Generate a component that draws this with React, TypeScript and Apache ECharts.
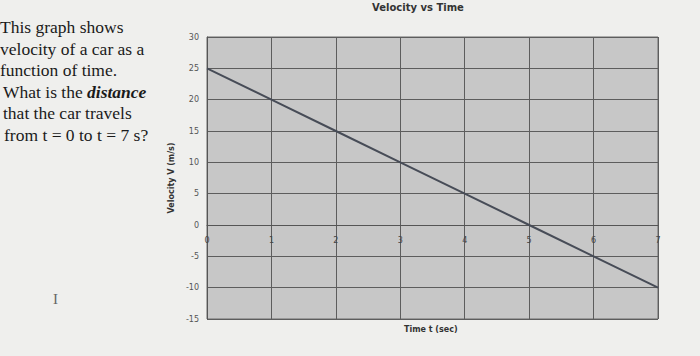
import React, { useEffect, useRef } from "react";
import * as echarts from "echarts";

const times = [0, 1, 2, 3, 4, 5, 6, 7];
const velocities = [25, 20, 15, 10, 5, 0, -5, -10];
const yMin = -15;
const yMax = 30;
const questionLines = [
  "This graph shows",
  "velocity of a car as a",
  "function of time.",
];
const titleText = "Velocity vs Time";
const xAxisName = "Time t (sec)";
const yAxisName = "Velocity V (m/s)";

export default function App() {
  const ref = useRef<HTMLDivElement>(null);
  useEffect(() => {
    if (!ref.current) return;
    const chart = echarts.init(ref.current, undefined, { renderer: "svg" });
    const serif = "'Liberation Serif', 'Times New Roman', serif";
    const sans = "'DejaVu Sans', sans-serif";
    const qStyle = { fontFamily: serif, fontSize: 17.5, fill: "#1a1a1a" };
    chart.setOption({
      animation: false,
      backgroundColor: "#efefed",
      title: {
        text: titleText,
        left: 418,
        top: 2,
        padding: 0,
        textAlign: "center",
        textStyle: { fontFamily: sans, fontSize: 10, fontWeight: "bold", color: "#333" },
      },
      grid: {
        left: 207,
        top: 37,
        right: 42,
        bottom: 37,
        show: true,
        containLabel: false,
        outerBoundsMode: "none",
        backgroundColor: "#c7c7c7",
        borderColor: "#6a6a6a",
        borderWidth: 1,
      },
      xAxis: {
        type: "value",
        min: 0,
        max: 7,
        interval: 1,
        axisLine: { onZero: false, lineStyle: { color: "#555", width: 1 } },
        axisTick: { show: false },
        axisLabel: { color: "#444", fontSize: 8, margin: 11, fontFamily: sans },
        splitLine: { show: true, lineStyle: { color: "#5d5d5d", width: 1 } },
      },
      yAxis: {
        type: "value",
        min: yMin,
        max: yMax,
        interval: 5,
        name: yAxisName,
        nameLocation: "middle",
        nameGap: 21,
        nameTextStyle: { fontFamily: sans, fontSize: 8, fontWeight: "bold", color: "#333" },
        axisLine: { show: true, onZero: false, lineStyle: { color: "#555", width: 1 } },
        axisTick: { show: false },
        axisLabel: { color: "#555", fontSize: 8, margin: 8, fontFamily: sans },
        splitLine: { show: true, lineStyle: { color: "#5d5d5d", width: 1 } },
      },
      series: [
        {
          type: "line",
          data: times.map((t, i) => [t, velocities[i]]),
          symbol: "none",
          lineStyle: { color: "#474c57", width: 2 },
        },
      ],
      graphic: [
        ...questionLines.map((line, i) => ({
          type: "text",
          left: 0,
          top: 18 + i * 21.5,
          style: { ...qStyle, text: line },
        })),
        {
          type: "text",
          left: 3,
          top: 83,
          style: {
            ...qStyle,
            text: "What is the {d|distance}",
            rich: {
              d: { fontFamily: serif, fontSize: 17.5, fontStyle: "italic", fontWeight: "bold", fill: "#1a1a1a" },
            },
          },
        },
        { type: "text", left: 3, top: 104, style: { ...qStyle, text: "that the car travels" } },
        { type: "text", left: 4, top: 126, style: { ...qStyle, text: "from t = 0 to t = 7 s?" } },
        { type: "text", left: 53, top: 291, style: { fontFamily: serif, fontSize: 15, fill: "#666", text: "I" } },
        {
          type: "text",
          left: 404,
          top: 325,
          style: { fontFamily: sans, fontSize: 8, fontWeight: "bold", fill: "#333", text: xAxisName },
        },
      ],
    });
    const zeroPix = chart.convertToPixel({ gridIndex: 0 }, [0, 0]) as number[];
    const minPix = chart.convertToPixel({ gridIndex: 0 }, [0, yMin]) as number[];
    if (zeroPix && minPix) {
      chart.setOption({ xAxis: { offset: -(minPix[1] - zeroPix[1]) } });
    }
    return () => chart.dispose();
  }, []);
  return (
    <div
      ref={ref}
      style={{ position: "fixed", left: 0, top: 0, width: 700, height: 356 }}
    />
  );
}
